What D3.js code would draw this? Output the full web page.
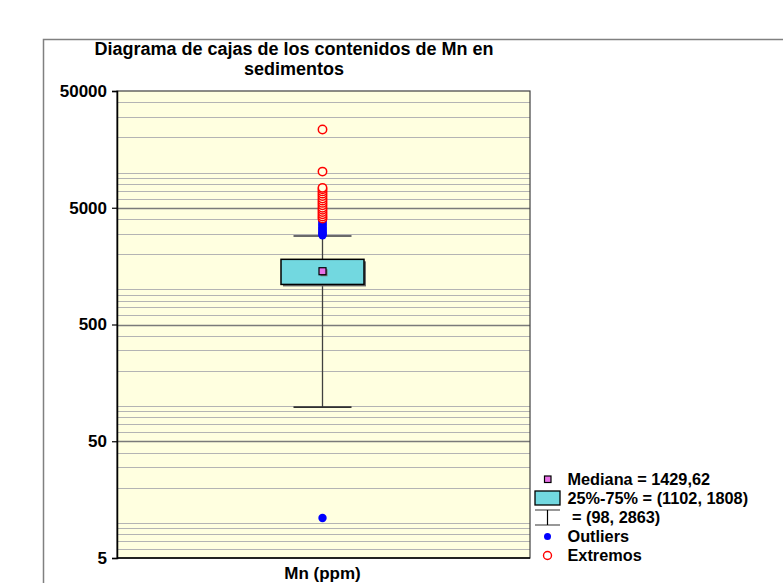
<!DOCTYPE html>
<html>
<head>
<meta charset="utf-8">
<script src="https://cdn.jsdelivr.net/npm/d3@7"></script>
<style>
  html, body { margin: 0; padding: 0; background: #ffffff; }
  svg { display: block; }
  text { font-family: "Liberation Sans", Arial, sans-serif; font-weight: bold; fill: #000; }
</style>
</head>
<body>
<svg id="chart" width="783" height="583"></svg>
<script>
// ---- data ----
const categories = ["Mn (ppm)"];
const medianValue = 1429.62;
const quartiles = [1102, 1808];
const whiskers = [98, 2863];
const outliers = [11, 2900, 2960, 3020, 3090, 3160, 3240, 3320, 3410, 3500, 3600, 3700, 3800, 3900];
const extremes = [4050, 4200, 4400, 4600, 4800, 5000, 5250, 5500, 5750, 6000, 6300, 6600, 6900, 7200, 7400, 10200, 23400];
const tickValues = [5, 50, 500, 5000, 50000];
const titleLines = ["Diagrama de cajas de los contenidos de Mn en", "sedimentos"];
const legendLabels = ["Mediana = 1429,62", "25%-75% = (1102, 1808)", " = (98, 2863)", "Outliers", "Extremos"];

// ---- layout ----
const svg = d3.select("#chart");
const plot = { left: 117, right: 530, top: 91, bottom: 558 };

const y = d3.scaleLog().domain([5, 50000]).range([plot.bottom, plot.top]);
const x = d3.scaleBand().domain(categories).range([plot.left, plot.right - 2]).paddingInner(0).paddingOuter(0);
const cx = x(categories[0]) + x.bandwidth() / 2;

// outer frame
svg.append("path")
  .attr("d", `M43.5,583 V39.5 H783`)
  .attr("fill", "none").attr("stroke", "#808080").attr("stroke-width", 1.5);

// title
svg.selectAll("text.title").data(titleLines).enter().append("text")
  .attr("class", "title")
  .attr("x", 294).attr("y", (d, i) => 55 + i * 19.5)
  .attr("text-anchor", "middle")
  .style("font-size", "18px")
  .text(d => d);

// plot background
svg.append("rect")
  .attr("x", plot.left).attr("y", plot.top)
  .attr("width", plot.right - plot.left).attr("height", plot.bottom - plot.top)
  .attr("fill", "#ffffe0");

// grid lines (log minor + major)
const gridVals = [];
for (let e = 0; e <= 4; e++) {
  for (let m = 1; m <= 9; m++) {
    const v = m * Math.pow(10, e);
    if (v > 5 && v < 50000) gridVals.push(v);
  }
}
svg.append("g").selectAll("line").data(gridVals).enter().append("line")
  .attr("x1", plot.left).attr("x2", plot.right)
  .attr("y1", d => Math.round(y(d)) + 0.5).attr("y2", d => Math.round(y(d)) + 0.5)
  .attr("stroke", d => tickValues.includes(d) ? "#7a7a7a" : "#b4b4b4")
  .attr("stroke-width", d => tickValues.includes(d) ? 1.5 : 1.2);

// plot border
svg.append("rect")
  .attr("x", plot.left).attr("y", plot.top)
  .attr("width", plot.right - plot.left).attr("height", plot.bottom - plot.top)
  .attr("fill", "none").attr("stroke", "#404040").attr("stroke-width", 1.2);

// y axis
const yAxis = d3.axisLeft(y).tickValues(tickValues).tickFormat(d3.format("d")).tickSize(5).tickPadding(5);
const gy = svg.append("g").attr("transform", `translate(${plot.left},0)`).call(yAxis);
gy.select(".domain").attr("stroke", "#000").attr("stroke-width", 1.5);
gy.selectAll(".tick line").attr("stroke", "#000").attr("stroke-width", 1.2);
gy.selectAll(".tick text").style("font-size", "17px").style("font-family", "Liberation Sans, Arial, sans-serif").style("font-weight", "bold").attr("fill", "#000");

// bottom axis line
svg.append("line").attr("x1", plot.left).attr("x2", plot.right)
  .attr("y1", plot.bottom).attr("y2", plot.bottom)
  .attr("stroke", "#000").attr("stroke-width", 1.5);

// x label
svg.append("text")
  .attr("x", cx).attr("y", 578.5)
  .attr("text-anchor", "middle")
  .style("font-size", "17px")
  .text(categories[0]);

// whiskers
const boxHalf = 41.5, capHalf = 29;
svg.append("line").attr("x1", cx).attr("x2", cx)
  .attr("y1", y(whiskers[0])).attr("y2", y(whiskers[1]))
  .attr("stroke", "#404040").attr("stroke-width", 1.3);
svg.selectAll("line.cap").data(whiskers).enter().append("line")
  .attr("class", "cap")
  .attr("x1", cx - capHalf).attr("x2", cx + capHalf)
  .attr("y1", d => y(d)).attr("y2", d => y(d))
  .attr("stroke", (d, i) => i === 1 ? "#6a6a6a" : "#303030").attr("stroke-width", 1.8);

// box shadow + box
svg.append("rect")
  .attr("x", cx - boxHalf + 2).attr("y", y(quartiles[1]) + 2)
  .attr("width", boxHalf * 2).attr("height", y(quartiles[0]) - y(quartiles[1]))
  .attr("fill", "#707070");
svg.append("rect")
  .attr("x", cx - boxHalf).attr("y", y(quartiles[1]))
  .attr("width", boxHalf * 2).attr("height", y(quartiles[0]) - y(quartiles[1]))
  .attr("fill", "#72d8e0").attr("stroke", "#000").attr("stroke-width", 1.5);

// median marker
const ms = 7;
svg.append("rect")
  .attr("x", cx - ms / 2 + 1.5).attr("y", y(medianValue) - ms / 2 + 1.5)
  .attr("width", ms).attr("height", ms).attr("fill", "#707070");
svg.append("rect")
  .attr("x", cx - ms / 2).attr("y", y(medianValue) - ms / 2)
  .attr("width", ms).attr("height", ms)
  .attr("fill", "#e870e8").attr("stroke", "#000").attr("stroke-width", 1.2);

// outliers
svg.append("g").selectAll("circle").data(outliers).enter().append("circle")
  .attr("cx", cx).attr("cy", d => y(d)).attr("r", 4.2)
  .attr("fill", "#0000ff");

// extremes
svg.append("g").selectAll("circle").data(extremes).enter().append("circle")
  .attr("cx", cx).attr("cy", d => y(d)).attr("r", 4.2)
  .attr("fill", "#ffffe0").attr("stroke", "#ff0000").attr("stroke-width", 1.5);

// legend
const lg = svg.append("g");
const lx0 = 535, lx1 = 560, lxc = 547.5, ltx = 567.5;
const rowY = [479.5, 498, 517.5, 536.5, 555.5];
lg.append("rect").attr("x", lxc - 3).attr("y", rowY[0] - 3.5).attr("width", 6.5).attr("height", 6.5)
  .attr("fill", "#e870e8").attr("stroke", "#000").attr("stroke-width", 1.2);
lg.append("rect").attr("x", lx0).attr("y", 491).attr("width", lx1 - lx0).attr("height", 14)
  .attr("fill", "#72d8e0").attr("stroke", "#000").attr("stroke-width", 1.3);
lg.append("line").attr("x1", lx0).attr("x2", lx1).attr("y1", 510).attr("y2", 510).attr("stroke", "#606060").attr("stroke-width", 1.3);
lg.append("line").attr("x1", lx0).attr("x2", lx1).attr("y1", 525).attr("y2", 525).attr("stroke", "#606060").attr("stroke-width", 1.3);
lg.append("line").attr("x1", lxc).attr("x2", lxc).attr("y1", 510).attr("y2", 525).attr("stroke", "#000").attr("stroke-width", 1.2);
lg.append("circle").attr("cx", lxc).attr("cy", rowY[3]).attr("r", 3.5).attr("fill", "#0000ff");
lg.append("circle").attr("cx", lxc).attr("cy", rowY[4]).attr("r", 4).attr("fill", "none").attr("stroke", "#ff0000").attr("stroke-width", 1.4);
lg.selectAll("text").data(legendLabels).enter().append("text")
  .attr("x", ltx).attr("y", (d, i) => rowY[i])
  .attr("dy", "0.36em")
  .attr("xml:space", "preserve")
  .style("white-space", "pre")
  .style("font-size", "16.3px")
  .text(d => d);
</script>
</body>
</html>
